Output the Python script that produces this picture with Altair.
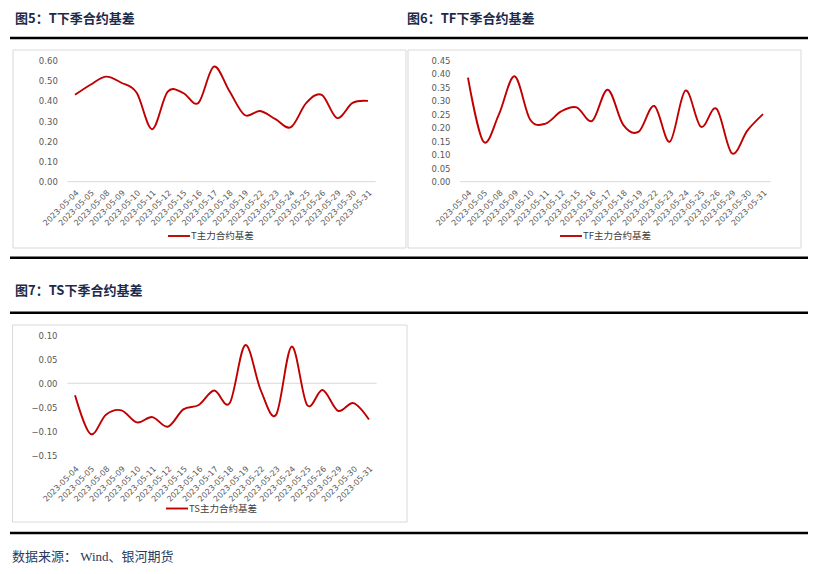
import altair as alt
import pandas as pd

# ---------------- data ----------------
dates = ["2023-05-04", "2023-05-05", "2023-05-08", "2023-05-09", "2023-05-10",
         "2023-05-11", "2023-05-12", "2023-05-15", "2023-05-16", "2023-05-17",
         "2023-05-18", "2023-05-19", "2023-05-22", "2023-05-23", "2023-05-24",
         "2023-05-25", "2023-05-26", "2023-05-29", "2023-05-30", "2023-05-31"]
t_basis = [0.43, 0.48, 0.52, 0.49, 0.44, 0.26, 0.445, 0.44, 0.39, 0.57,
           0.45, 0.33, 0.35, 0.31, 0.27, 0.39, 0.43, 0.315, 0.39, 0.40]
tf_basis = [0.385, 0.148, 0.25, 0.39, 0.23, 0.215, 0.26, 0.275, 0.225, 0.34,
            0.21, 0.185, 0.28, 0.148, 0.337, 0.203, 0.27, 0.105, 0.19, 0.25]
ts_basis = [-0.025, -0.105, -0.065, -0.056, -0.081, -0.07, -0.09, -0.054, -0.045, -0.015,
            -0.041, 0.079, -0.014, -0.065, 0.076, -0.045, -0.014, -0.057, -0.041, -0.075]

t_ticks = [0.0, 0.1, 0.2, 0.3, 0.4, 0.5, 0.6]
tf_ticks = [0.0, 0.05, 0.10, 0.15, 0.20, 0.25, 0.30, 0.35, 0.40, 0.45]
ts_ticks = [-0.15, -0.10, -0.05, 0.0, 0.05, 0.10]

titles = ["图5：T下季合约基差", "图6：TF下季合约基差", "图7：TS下季合约基差"]
legends = ["T主力合约基差", "TF主力合约基差", "TS主力合约基差"]
source_text = "数据来源：   Wind、银河期货"

# ---------------- style ----------------
W, H = 800, 556
RED = "#C00000"
NAVY = "#1c2b4a"
LABEL = "#595959"
BOXC = "#d9d9d9"
CJK = "Noto Sans CJK SC"
NUMF = "DejaVu Sans"

one = pd.DataFrame({"k": [0]})


def panel(values, xr, yr, dom, ticks, yoff, xoff, xpad, leg_text, lx, ly):
    df = pd.DataFrame({"date": dates, "value": values})
    base = alt.Chart(df)
    line = base.mark_line(color=RED, strokeWidth=1.9, interpolate="cardinal").encode(
        x=alt.X("date:N", sort=None, bandPosition=0.5,
                scale=alt.Scale(type="band", range=xr, paddingInner=0, paddingOuter=0),
                axis=alt.Axis(orient="bottom", offset=xoff, domain=False, ticks=False,
                              tickSize=0, grid=False, labelAngle=-45, labelAlign="right",
                              labelBaseline="top", labelPadding=xpad, labelFont=NUMF,
                              labelFontSize=8, labelColor=LABEL, labelOverlap=False,
                              title=None)),
        y=alt.Y("value:Q",
                scale=alt.Scale(domain=dom, range=yr, nice=False, zero=False),
                axis=alt.Axis(orient="left", offset=yoff, values=ticks, format=".2f",
                              domain=False, ticks=False, tickSize=0, grid=False,
                              labelPadding=0, labelFont=NUMF, labelFontSize=8.5,
                              labelColor=LABEL, title=None)),
    )
    zero = alt.Chart(one).mark_rule(color=BOXC, strokeWidth=1).encode(
        y=alt.datum(0), x=alt.value(xr[0]), x2=alt.value(xr[1]))
    leg_line = alt.Chart(one).mark_rule(color=RED, strokeWidth=1.9).encode(
        x=alt.value(lx), x2=alt.value(lx + 22), y=alt.value(ly))
    leg_txt = alt.Chart(one).mark_text(
        align="left", baseline="middle", font=CJK, fontSize=9.5, color="#404040"
    ).encode(x=alt.value(lx + 23), y=alt.value(ly), text=alt.value(leg_text))
    return alt.layer(zero, line, leg_line, leg_txt)


def hrule(y):
    return alt.Chart(one).mark_rule(color="#000000", strokeWidth=2.5).encode(
        x=alt.value(2), x2=alt.value(800), y=alt.value(y))


def box(x1, x2, y1, y2):
    return alt.Chart(one).mark_rect(fill=None, fillOpacity=0, stroke=BOXC, strokeWidth=1).encode(
        x=alt.value(x1), x2=alt.value(x2), y=alt.value(y1), y2=alt.value(y2))


def title(txt, x, y):
    return alt.Chart(one).mark_text(
        align="left", baseline="middle", font=CJK, fontSize=13, fontWeight="bold", color=NAVY
    ).encode(x=alt.value(x), y=alt.value(y), text=alt.value(txt))


decor = [
    hrule(30), hrule(249.7), hrule(304.7), hrule(525),
    box(5, 398, 42, 240), box(400, 793, 42, 240), box(4.5, 399, 317, 514),
    title(titles[0], 7, 10.5), title(titles[1], 399, 10.5), title(titles[2], 7, 283),
    alt.Chart(one).mark_text(
        align="left", baseline="middle", font="Liberation Serif, " + CJK, fontSize=13,
        color="#2a3a5e"
    ).encode(x=alt.value(4), y=alt.value(549), text=alt.value(source_text)),
]

p_t = panel(t_basis, [59.3, 367.7], [173.7, 52.5], [0, 0.6], t_ticks,
            -49.3, -(H - 173.7), 7, legends[0], 160, 228)
p_tf = panel(tf_basis, [452.2, 762.8], [173.7, 52.0], [0, 0.45], tf_ticks,
             -442, -(H - 173.7), 7, legends[1], 552, 228)
p_ts = panel(ts_basis, [59.3, 368.7], [447.7, 327.0], [-0.15, 0.10], ts_ticks,
             -49, -(H - 447.7), 9, legends[2], 158, 500.5)

chart = alt.layer(*decor, p_t, p_tf, p_ts).resolve_scale(
    x="independent", y="independent"
).resolve_axis(
    x="independent", y="independent"
).properties(
    width=W, height=H, autosize="none", padding=0, background="white"
).configure_view(stroke=None)

chart.save("out.html", embed_options={"renderer": "svg", "actions": False})
